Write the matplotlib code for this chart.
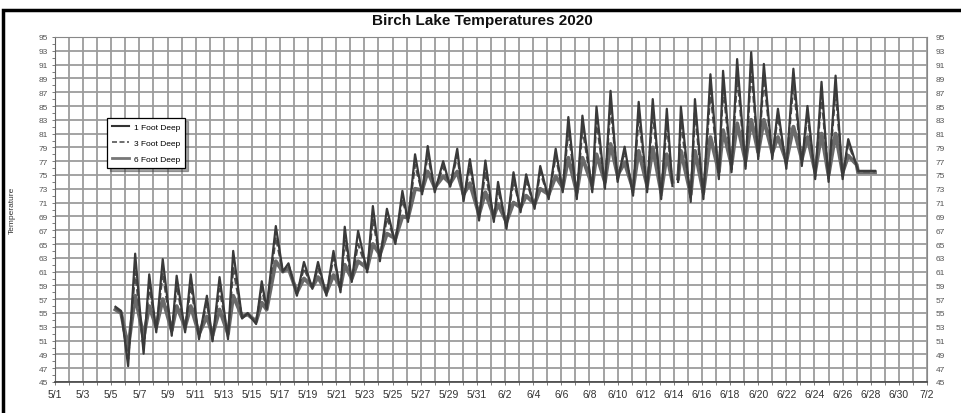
import matplotlib
matplotlib.use("Agg")
import matplotlib.pyplot as plt
import numpy as np
from matplotlib.lines import Line2D
from matplotlib.patches import Rectangle

# ---- data (x = days since 5/1) ----
t = [4.3, 4.7, 5.2, 5.7, 6.3, 6.7, 7.2, 7.66, 8.3, 8.65, 9.25, 9.65, 10.24, 10.8, 11.2, 11.7,
     12.3, 12.67, 13.3, 13.7, 14.3, 14.7, 15.05, 15.7, 16.2, 16.6, 17.2, 17.7, 18.3, 18.7,
     19.3, 19.8, 20.3, 20.6, 21.1, 21.55, 22.2, 22.6, 23.1, 23.6, 24.2, 24.7, 25.1, 25.6,
     26.1, 26.5, 27.0, 27.6, 28.1, 28.6, 29.05, 29.5, 30.15, 30.6, 31.2, 31.5, 32.1, 32.6,
     33.1, 33.5, 34.1, 34.5, 35.1, 35.6, 36.1, 36.5, 37.1, 37.5, 38.2, 38.5, 39.1, 39.5,
     40.0, 40.5, 41.1, 41.5, 42.1, 42.5, 43.1, 43.5, 43.9, 44.1, 44.3, 44.5, 45.2, 45.5,
     46.1, 46.6, 47.2, 47.5, 48.1, 48.5, 49.1, 49.5, 50.0, 50.4, 51.0, 51.4, 52.0, 52.5,
     53.1, 53.5, 54.05, 54.5, 55.0, 55.5, 56.0, 56.4, 57.0, 57.1, 58.3]

nan = float("nan")
foot1 = [55.9, 55.3, 47.3, 63.6, 49.1, 60.6, 52.2, 62.8, 51.7, 60.4, 52.2, 60.6, 51.2, 57.5, 50.9, 60.2,
         51.2, 64.0, 54.2, 55.0, 53.4, 59.6, 55.6, 67.6, 61.0, 62.2, 57.5, 62.4, 58.5, 62.4,
         57.5, 64.0, 58.0, 67.5, 59.5, 66.9, 60.9, 70.5, 62.5, 70.1, 65.0, 72.7, 68.2, 78.0,
         72.2, 79.2, 72.5, 77.0, 73.3, 78.8, 71.2, 77.3, 68.4, 77.1, 68.2, 74.0, 67.2, 75.4,
         69.6, 75.1, 70.1, 76.3, 71.5, 78.8, 72.5, 83.4, 71.5, 83.6, 72.5, 84.9, 73.0, 87.2,
         74.0, 79.1, 72.0, 85.6, 72.5, 86.0, 71.5, 84.6, 73.4, nan, 74.0, 84.9, 71.1, 86.0,
         71.5, 89.6, 74.4, 90.1, 75.4, 91.8, 75.9, 92.8, 77.3, 91.1, 77.3, 84.6, 75.9, 90.4,
         76.3, 85.0, 74.4, 88.5, 74.0, 89.4, 74.4, 80.2, 76.3, 75.6, 75.6]

foot3 = [55.7, 55.1, 48.3, 61.0, 49.8, 59.0, 52.5, 60.8, 52.0, 59.0, 52.5, 59.0, 51.5, 56.5, 51.2, 58.5,
         51.6, 61.5, 54.3, 54.9, 53.6, 58.5, 55.6, 66.0, 61.0, 62.0, 57.8, 61.5, 58.7, 61.6,
         57.8, 63.0, 58.4, 65.5, 59.8, 65.0, 61.2, 68.5, 63.0, 68.8, 65.4, 71.5, 68.5, 76.5,
         72.5, 78.0, 72.8, 76.2, 73.5, 77.8, 71.6, 76.2, 68.8, 75.5, 68.6, 73.0, 67.6, 74.2,
         70.0, 74.3, 70.4, 75.4, 71.8, 77.7, 72.8, 81.5, 71.9, 81.8, 72.9, 82.9, 73.4, 85.0,
         74.4, 78.4, 72.4, 83.5, 72.9, 84.0, 72.0, 82.6, 73.7, nan, 74.2, 82.8, 71.5, 84.0,
         71.9, 87.2, 74.8, 87.8, 75.8, 89.3, 76.3, 90.3, 77.7, 89.0, 77.7, 83.5, 76.3, 88.2,
         76.7, 83.8, 74.8, 86.5, 74.4, 87.3, 74.8, 79.5, 76.4, 75.5, 75.5]

foot6 = [55.5, 55.0, 50.0, 57.5, 51.5, 56.0, 53.0, 57.0, 52.5, 56.0, 53.0, 56.0, 52.0, 54.5, 51.8, 55.5,
         52.0, 57.5, 54.5, 54.8, 53.8, 56.5, 55.5, 62.5, 61.0, 61.5, 58.0, 60.0, 58.8, 60.2,
         58.0, 60.5, 58.8, 62.0, 60.0, 62.5, 61.5, 65.0, 63.5, 66.5, 65.8, 69.0, 68.8, 73.0,
         72.8, 75.5, 73.2, 74.8, 73.8, 75.5, 72.2, 73.8, 69.3, 72.5, 69.0, 70.8, 68.2, 71.0,
         70.3, 72.0, 70.8, 73.0, 72.2, 74.8, 73.2, 77.5, 72.5, 77.5, 73.5, 78.0, 74.0, 79.5,
         75.0, 76.8, 73.0, 78.5, 73.5, 79.0, 72.5, 78.0, 74.0, nan, 74.5, 78.5, 72.2, 78.5,
         72.5, 80.5, 75.5, 81.5, 76.5, 82.5, 77.0, 83.0, 78.3, 83.0, 78.3, 80.5, 77.0, 82.0,
         77.3, 80.5, 75.5, 81.0, 75.0, 81.0, 75.4, 77.8, 76.5, 75.4, 75.4]

series_names = ["1 Foot Deep", "3 Foot Deep", "6 Foot Deep"]
x_tick_labels = ["5/1", "5/3", "5/5", "5/7", "5/9", "5/11", "5/13", "5/15", "5/17", "5/19",
                 "5/21", "5/23", "5/25", "5/27", "5/29", "5/31", "6/2", "6/4", "6/6", "6/8",
                 "6/10", "6/12", "6/14", "6/16", "6/18", "6/20", "6/22", "6/24", "6/26", "6/28",
                 "6/30", "7/2"]
y_ticks = list(range(45, 96, 2))

# ---- figure ----
W, H = 961, 414
fig = plt.figure(figsize=(W / 100, H / 100), dpi=100)
plt.rcParams["font.family"] = ["Liberation Sans", "DejaVu Sans"]

# outer frame
fig.add_artist(Rectangle((3 / W, -0.01), 1.0, (H - 11) / H + 0.01, transform=fig.transFigure,
                         fill=False, edgecolor="black", linewidth=2.5))

ax = fig.add_axes([55 / W, (H - 383) / H, (927 - 55) / W, (383 - 38) / H])
ax.set_xlim(0, 62)
ax.set_ylim(45, 95)

ax.set_xticks(np.arange(0, 63, 2))
ax.set_xticklabels(x_tick_labels, fontsize=7.5, color="#333333")
ax.set_xticks(np.arange(0, 63, 1), minor=True)
ax.set_yticks(y_ticks)
ax.set_yticklabels([str(v) for v in y_ticks], fontsize=6, color="#555555")
ax.set_yticks(np.arange(45, 96, 1), minor=True)

ax.grid(True, which="major", axis="y", color="#9c9c9c", linewidth=1.3)
ax.grid(True, which="both", axis="x", color="#9c9c9c", linewidth=1.3)
ax.set_axisbelow(True)

ax.tick_params(axis="both", which="both", direction="out", length=2, width=0.6, color="#666666", pad=3)
ax.tick_params(axis="y", which="both", left=True, right=False)

# right-side labels
ax2 = ax.twinx()
ax2.set_ylim(45, 95)
ax2.set_yticks(y_ticks)
ax2.set_yticklabels([str(v) for v in y_ticks], fontsize=6, color="#555555")
ax2.tick_params(axis="y", length=0, pad=6)
for s in ax2.spines.values():
    s.set_visible(False)

for name, s in ax.spines.items():
    s.set_color("#888888")
    s.set_linewidth(0.8)
ax.spines["bottom"].set_color("#444444")
ax.spines["bottom"].set_linewidth(1.2)
ax.spines["left"].set_color("#666666")

ax.plot(t, foot6, color="#6a6a6a", linewidth=2.8, label=series_names[2], zorder=3)
ax.plot(t, foot3, color="#505050", linewidth=1.6, linestyle=(0, (3, 1.5)), label=series_names[1], zorder=4)
ax.plot(t, foot1, color="#3a3a3a", linewidth=1.6, label=series_names[0], zorder=5)

handles = [Line2D([], [], color="#333333", linewidth=1.5),
           Line2D([], [], color="#555555", linewidth=1.2, linestyle=(0, (3, 1.5))),
           Line2D([], [], color="#777777", linewidth=2.0)]
leg = ax.legend(handles, series_names, loc="upper left", bbox_to_anchor=(0.055, 0.777),
                fontsize=6, frameon=True, fancybox=False, shadow=True, handlelength=2.0,
                borderpad=0.6, labelspacing=1.0, handletextpad=0.6)
leg.get_frame().set_edgecolor("black")
leg.get_frame().set_linewidth(0.9)

ax.set_ylabel("Temperature", fontsize=6, color="#333333", labelpad=10)
ax.yaxis.set_label_coords(-0.045, 0.5)

fig.text(482 / W, 1 - 21 / H, "Birch Lake Temperatures 2020", ha="center", va="center",
         fontsize=11, fontweight="bold", color="#111111")

fig.savefig("out.png", dpi=100)
